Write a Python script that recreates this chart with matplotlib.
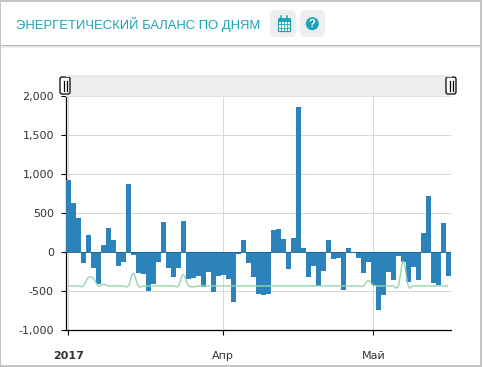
import matplotlib
matplotlib.use("Agg")
import matplotlib.pyplot as plt
from matplotlib.patches import FancyBboxPatch, Rectangle, PathPatch, Circle
from matplotlib.path import Path
from matplotlib.ticker import FixedLocator, FixedFormatter

TITLE = "ЭНЕРГЕТИЧЕСКИЙ БАЛАНС ПО ДНЯМ"
balance = [927, 632, 440, -132, 222, -197, -406, 94, 312, 158, -171, -120, 876, -34, -260,
           -273, -491, -402, -120, 389, -197, -312, -197, 402, -346, -325, -299, -440, -256,
           -504, -299, -286, -346, -632, -17, 158, -132, -312, -538, -543, -530, 286, 299,
           171, -209, 184, 1863, 56, -312, -171, -427, -235, 158, -85, -68, -479, 56, -8,
           -68, -260, -120, -419, -735, -543, -248, -350, -47, -120, -376, -188, -350, 248,
           722, -389, -423, 376, -299]
norm = [-431, -431, -431, -431, -325, -335, -430, -410, -431, -431, -431, -431, -431, -270,
        -431, -431, -431, -431, -431, -431, -431, -431, -431, -286, -425, -440, -431, -431,
        -431, -431, -431, -431, -431, -431, -431, -431, -431, -431, -431, -431, -431, -431,
        -431, -431, -431, -431, -431, -431, -431, -431, -431, -431, -431, -431, -431, -431,
        -431, -431, -431, -431, -363, -425, -431, -431, -431, -431, -431, -120, -431, -431,
        -431, -431, -431, -431, -431, -431, -431]
y_ticks = [-1000, -500, 0, 500, 1000, 1500, 2000]
y_labels = ["-1,000", "-500", "0", "500", "1,000", "1,500", "2,000"]
x_ticks = [0, 31, 61]
x_labels = ["2017", "Апр", "Май"]

W, H = 483, 367
TEAL = "#17a5b8"
fig = plt.figure(figsize=(W / 100, H / 100), dpi=100, facecolor="white")

# page overlay in pixel coordinates
bg = fig.add_axes([0, 0, 1, 1], zorder=0)
bg.set_xlim(0, W); bg.set_ylim(H, 0); bg.axis("off")
bg.add_patch(Rectangle((0, 0), 482, 2, fc="#c4c4c4", ec="none"))
bg.add_patch(Rectangle((0, 0), 1, 367, fc="#c4c4c4", ec="none"))
bg.add_patch(Rectangle((480, 0), 2, 367, fc="#c4c4c4", ec="none"))
bg.add_patch(Rectangle((0, 365), 482, 2, fc="#c4c4c4", ec="none"))
for i, a in enumerate([0.26, 0.12, 0.05, 0.02]):
    bg.add_patch(Rectangle((1, 45 + i), 479, 1, fc="black", alpha=a, ec="none"))
bg.text(16.5, 25, TITLE, color=TEAL, fontsize=9.4, family="Liberation Sans",
        va="center", ha="left")
for x0, x1 in [(270, 296), (300, 325)]:
    bg.add_patch(FancyBboxPatch((x0 + 4, 14), x1 - x0 - 8, 19, boxstyle="round,pad=0,rounding_size=1",
                                mutation_aspect=1, fc="#eeeeee", ec="#eeeeee", lw=8 * 0.72))
# calendar icon
bg.add_patch(Rectangle((277.5, 19.5), 12.5, 11.5, fc="white", ec=TEAL, lw=0.9))
bg.add_patch(Rectangle((277.5, 18), 12.5, 3, fc=TEAL, ec=TEAL, lw=0.6))
for x in (280.6, 283.75, 286.9):
    bg.plot([x, x], [21, 31], color=TEAL, lw=0.6)
for y in (24.3, 27.6):
    bg.plot([277.5, 290], [y, y], color=TEAL, lw=0.6)
for x in (281, 286.5):
    bg.plot([x, x], [16, 19], color=TEAL, lw=1.1)
# question icon
bg.add_patch(Circle((312.3, 23.7), 6.5, fc=TEAL, ec="none"))
bg.text(312.3, 24, "?", color="white", fontsize=8, fontweight="bold",
        family="Liberation Sans", ha="center", va="center")

# chart
L, R, T, B = 65.8, 450.8, 96.3, 330.3
ax = fig.add_axes([L / W, 1 - B / H, (R - L) / W, (B - T) / H], zorder=1)
ax.patch.set_alpha(0)
days = list(range(len(balance)))
ax.bar(days, balance, width=1.0, color="#2b83ba", linewidth=0, zorder=3)
ax.axhline(0, color="#1f5f85", lw=0.6, zorder=4)

# smooth line through the values, with a spline tangent at each value
verts, codes = [(days[0], norm[0])], [Path.MOVETO]
def tangents(i):
    if i == 0 or i == len(days) - 1:
        return (days[i], norm[i]), (days[i], norm[i])
    s = 1.5; d = s + 1
    lx, ly = (s * days[i] + days[i - 1]) / d, (s * norm[i] + norm[i - 1]) / d
    rx, ry = (s * days[i] + days[i + 1]) / d, (s * norm[i] + norm[i + 1]) / d
    c = (ry - ly) / (rx - lx)
    ly2 = c * (lx - days[i]) + norm[i]
    ry2 = c * (rx - days[i]) + norm[i]
    return (lx, ly2), (rx, ry2)
for i in range(1, len(days)):
    _, r = tangents(i - 1)
    l, _ = tangents(i)
    verts += [r, l, (days[i], norm[i])]
    codes += [Path.CURVE4] * 3
ax.add_patch(PathPatch(Path(verts, codes), fc="none", ec="#96d6ae", lw=1.0, zorder=5))

ax.set_xlim(-0.5, 76.5)
ax.set_ylim(-1000, 2000)
ax.yaxis.set_major_locator(FixedLocator(y_ticks))
ax.yaxis.set_major_formatter(FixedFormatter(y_labels))
ax.xaxis.set_major_locator(FixedLocator(x_ticks))
ax.xaxis.set_major_formatter(FixedFormatter(x_labels))
ax.grid(True, color="#d8d8d8", lw=0.72, zorder=1)
ax.set_axisbelow(True)
for s in ("top", "right"):
    ax.spines[s].set_visible(False)
for s in ("left", "bottom"):
    ax.spines[s].set_linewidth(0.9)
ax.tick_params(axis="both", length=3.6, width=0.8, labelsize=8, labelcolor="#333333", pad=5)
ax.tick_params(axis="x", pad=11)
ax.get_xticklabels()[0].set_fontweight("bold")

# range band and handles on top
top = fig.add_axes([0, 0, 1, 1], zorder=2)
top.set_xlim(0, W); top.set_ylim(H, 0); top.axis("off")
top.add_patch(Rectangle((66, 75), 385, 21, fc="#eeeeee", ec="none"))
top.plot([66, 451], [75.5, 75.5], color="#e2e2e2", lw=0.8)
top.plot([66, 451], [95.5, 95.5], color="#e2e2e2", lw=0.8)
for cx in (65, 451):
    top.add_patch(FancyBboxPatch((cx - 5, 77), 10, 17, boxstyle="round,pad=0,rounding_size=2",
                                 fc="white", ec="black", lw=0.9))
    for dx in (-1.5, 1.5):
        top.plot([cx + dx, cx + dx], [80.5, 90.5], color="black", lw=0.9)

fig.savefig("out.png", dpi=100)
